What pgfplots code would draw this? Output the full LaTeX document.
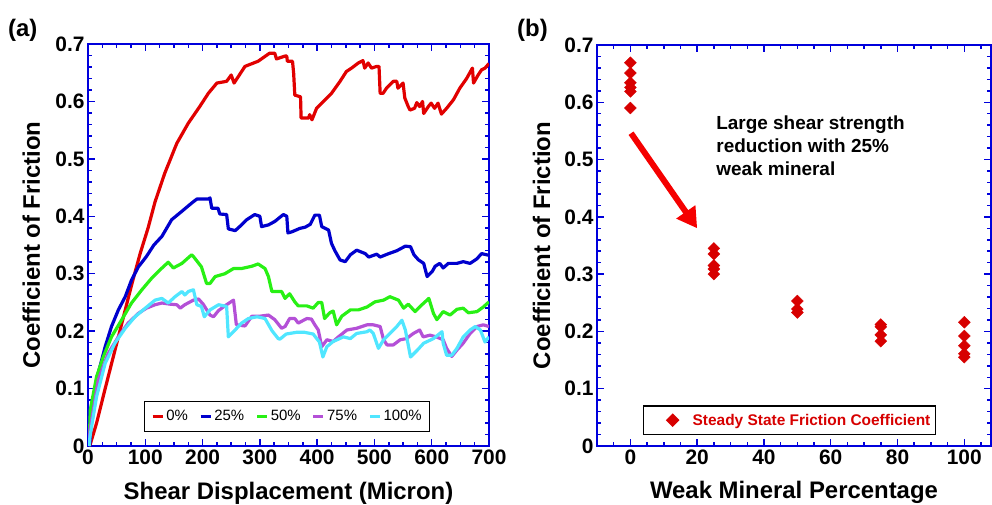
\documentclass[border=0pt]{standalone}
\usepackage{fontspec}
\setmainfont{Liberation Sans}
\usepackage{pgfplots}
\pgfplotsset{compat=1.18}
\usetikzlibrary{arrows.meta}

\definecolor{axblue}{RGB}{0,0,220}
\definecolor{cRed}{RGB}{225,0,0}
\definecolor{cBlue}{RGB}{0,0,205}
\definecolor{cGreen}{RGB}{40,240,20}
\definecolor{cPurple}{RGB}{180,80,215}
\definecolor{cCyan}{RGB}{80,230,255}
\definecolor{dRed}{RGB}{215,0,0}
\definecolor{arrRed}{RGB}{245,0,0}

\pgfplotsset{
  panel/.style={
    scale only axis,
    axis line style={axblue, line width=2.2bp},
    tick style={axblue, line width=1.5bp},
    tick align=inside,
    major tick length=7bp,
    minor tick length=4bp,
    ticklabel style={font=\fontsize{21}{21}\selectfont\bfseries},
    /pgf/number format/assume math mode=true,
    label style={font=\fontsize{24}{24}\selectfont\bfseries},
    ymin=0, ymax=0.7,
    ytick={0,0.1,...,0.7},
    minor ytick={0,0.02,...,0.7},
  },
}

\begin{document}
\begin{tikzpicture}
\useasboundingbox (0,0) rectangle (992bp,505bp);

% (a) friction vs displacement
\begin{axis}[panel,
  at={(88bp,59bp)}, anchor=south west,
  width=401bp, height=402bp,
  xmin=0, xmax=700,
  xtick={0,100,...,700},
  minor xtick={0,25,...,700},
  xlabel={Shear Displacement (Micron)},
  ylabel={Coefficient of Friction},
  xlabel style={at={(axis description cs:0.5,-0.134)}, anchor=base},
  ylabel style={at={(axis description cs:-0.12,0.5)}, anchor=base},
  legend style={at={(axis description cs:0.497,0.035)}, anchor=south,
    legend columns=5, draw=black, line width=1.2bp,
    font=\fontsize{15}{15}\selectfont,
    /tikz/every even column/.append style={column sep=9bp},
    inner xsep=6bp, inner ysep=7bp},
  legend image code/.code={\draw[#1, line width=3.5bp] (0bp,0bp) -- (10bp,0bp);},
  every axis plot/.append style={line width=3.2bp, line join=round},
]
\addplot[cRed] coordinates {
(3,0) (15,0.04) (30,0.1) (53,0.19) (76,0.28) (91,0.335) (105,0.38) (117,0.425)
(134,0.475) (155,0.527) (175,0.562) (195,0.591) (210,0.614) (225,0.632) (242,0.635)
(250,0.646) (255,0.632) (274,0.661) (297,0.670) (317,0.684) (326,0.684) (329,0.674)
(344,0.679) (347,0.679) (348,0.670) (357,0.670) (359,0.649) (361,0.611) (371,0.608)
(372,0.571) (385,0.571) (387,0.577) (391,0.568) (399,0.588) (411,0.600) (425,0.614)
(440,0.635) (451,0.652) (460,0.658) (472,0.667) (480,0.671) (483,0.658) (489,0.667)
(495,0.658) (504,0.661) (508,0.661) (510,0.614) (515,0.614) (521,0.623) (533,0.635)
(539,0.635) (541,0.623) (550,0.632) (553,0.606) (559,0.591) (562,0.585) (570,0.588)
(574,0.598) (579,0.591) (584,0.600) (586,0.579) (594,0.591) (599,0.597) (605,0.588)
(611,0.597) (617,0.578) (626,0.588) (638,0.603) (649,0.623) (661,0.640) (671,0.658)
(673,0.632) (681,0.646) (687,0.655) (693,0.658) (700,0.666)
};
\addlegendentry{0\%}
\addplot[cBlue] coordinates {
(3,0) (6,0.05) (18,0.127) (30,0.173) (41,0.208) (53,0.237) (65,0.260) (76,0.289)
(88,0.312) (102,0.330) (115,0.350) (129,0.365) (146,0.394) (163,0.408) (181,0.423)
(190,0.430) (210,0.430) (213,0.432) (216,0.414) (227,0.414) (230,0.404) (242,0.403)
(245,0.378) (257,0.375) (268,0.385) (277,0.394) (291,0.403) (300,0.400) (303,0.382)
(315,0.385) (326,0.391) (341,0.403) (347,0.400) (349,0.371) (356,0.373) (370,0.379)
(379,0.381) (388,0.386) (396,0.402) (404,0.402) (408,0.382) (420,0.376) (425,0.353)
(431,0.340) (440,0.324) (449,0.321) (458,0.333) (469,0.341) (484,0.335) (490,0.329)
(504,0.334) (510,0.329) (525,0.335) (539,0.340) (554,0.348) (563,0.347) (569,0.333)
(577,0.324) (586,0.318) (592,0.295) (601,0.304) (606,0.313) (614,0.318) (620,0.310)
(629,0.318) (644,0.318) (655,0.321) (667,0.318) (679,0.326) (687,0.335) (700,0.332)
};
\addlegendentry{25\%}
\addplot[cGreen] coordinates {
(2,0) (4,0.063) (15,0.121) (27,0.156) (41,0.190) (59,0.220) (76,0.249) (94,0.272)
(111,0.292) (126,0.307) (140,0.320) (149,0.310) (164,0.318) (181,0.333) (184,0.330)
(198,0.312) (207,0.283) (213,0.283) (222,0.295) (239,0.300) (254,0.309) (268,0.309)
(286,0.313) (297,0.317) (309,0.309) (315,0.295) (321,0.269) (338,0.269) (344,0.257)
(352,0.265) (361,0.251) (367,0.244) (382,0.244) (393,0.240) (402,0.250) (408,0.250)
(413,0.222) (422,0.232) (428,0.235) (434,0.211) (443,0.226) (458,0.237) (472,0.237)
(487,0.242) (501,0.251) (516,0.254) (527,0.260) (542,0.254) (551,0.240) (559,0.247)
(571,0.234) (583,0.246) (595,0.257) (603,0.231) (609,0.220) (620,0.234) (632,0.228)
(644,0.238) (655,0.240) (664,0.232) (679,0.234) (690,0.242) (700,0.251)
};
\addlegendentry{50\%}
\addplot[cPurple] coordinates {
(2,0) (3.5,0.028) (18,0.115) (35,0.161) (53,0.190) (70,0.214) (88,0.231) (102,0.240)
(117,0.246) (129,0.249) (143,0.247) (155,0.246) (161,0.240) (169,0.246) (184,0.254)
(193,0.256) (201,0.247) (213,0.228) (219,0.225) (228,0.236) (239,0.244) (254,0.254)
(259,0.211) (274,0.209) (286,0.226) (300,0.226) (315,0.228) (326,0.220) (338,0.205)
(344,0.208) (352,0.222) (361,0.222) (367,0.214) (382,0.222) (390,0.221) (396,0.211)
(402,0.202) (408,0.173) (417,0.185) (428,0.182) (437,0.190) (452,0.202) (469,0.205)
(487,0.211) (498,0.211) (510,0.208) (516,0.185) (522,0.176) (533,0.176) (545,0.185)
(556,0.187) (568,0.196) (579,0.202) (585,0.190) (597,0.193) (608,0.190) (620,0.185)
(626,0.170) (635,0.156) (644,0.167) (655,0.179) (667,0.196) (679,0.208) (690,0.211)
(700,0.208)
};
\addlegendentry{75\%}
\addplot[cCyan] coordinates {
(2,0) (3.5,0.017) (15,0.086) (30,0.144) (47,0.179) (65,0.205) (82,0.225) (100,0.240)
(117,0.254) (129,0.257) (140,0.249) (152,0.260) (164,0.269) (169,0.263) (175,0.269)
(184,0.272) (190,0.246) (198,0.243) (203,0.225) (213,0.237) (228,0.246) (242,0.243)
(245,0.190) (254,0.199) (268,0.214) (280,0.222) (295,0.225) (309,0.222) (321,0.201)
(332,0.187) (335,0.186) (346,0.195) (364,0.198) (378,0.198) (393,0.195) (404,0.181)
(410,0.155) (417,0.173) (428,0.182) (446,0.190) (458,0.187) (469,0.196) (487,0.199)
(492,0.202) (498,0.196) (507,0.170) (516,0.185) (527,0.196) (539,0.208) (548,0.219)
(554,0.202) (563,0.155) (575,0.167) (586,0.179) (603,0.187) (618,0.199) (620,0.179)
(626,0.158) (635,0.158) (644,0.170) (655,0.190) (667,0.202) (676,0.208) (685,0.202)
(693,0.181) (700,0.190)
};
\addlegendentry{100\%}
\end{axis}

% (b) steady state friction
\begin{axis}[panel,
  at={(597bp,59bp)}, anchor=south west,
  width=394bp, height=401bp,
  xmin=-10, xmax=108,
  xtick={0,20,...,100},
  minor xtick={-5,0,...,105},
  xlabel={Weak Mineral Percentage},
  ylabel={Coefficient of Friction},
  xlabel style={at={(axis description cs:0.5,-0.132)}, anchor=base},
  ylabel style={at={(axis description cs:-0.119,0.5)}, anchor=base},
  legend style={at={(axis description cs:0.117,0.027)}, anchor=south west,
    draw=black, line width=1.2bp, text=dRed,
    font=\fontsize{15.5}{15.5}\selectfont\bfseries,
    inner xsep=3bp, inner ysep=6bp},
]
\addplot[only marks, color=dRed, mark=square*, mark size=4.2bp,
  mark options={rotate=45, fill=dRed, draw=dRed},
  legend image code/.code={\path[draw=none] (0bp,0bp) -- (44bp,0bp);
    \draw[dRed, only marks, mark=square*, mark size=4.2bp,
      mark options={rotate=45, fill=dRed, draw=dRed}] plot coordinates {(26bp,0bp)};}] coordinates {
(0,0.669) (0,0.651) (0,0.634) (0,0.626) (0,0.619) (0,0.590)
(25,0.345) (25,0.335) (25,0.315) (25,0.309) (25,0.300)
(50,0.253) (50,0.239) (50,0.233)
(75,0.212) (75,0.208) (75,0.194) (75,0.183)
(100,0.216) (100,0.192) (100,0.175) (100,0.161) (100,0.155)
};
\addlegendentry{Steady State Friction Coefficient}
\draw[-{Triangle[length=20bp,width=22bp]}, line width=6bp, arrRed]
  (axis cs:0.2,0.546) -- (axis cs:20,0.38);
\node[anchor=north west, align=left, inner sep=0,
  font=\fontsize{19}{23}\selectfont\bfseries]
  at (axis cs:25.7,0.576) {Large shear strength\\reduction with 25\%\\weak mineral};
\end{axis}

\node[anchor=base west, inner sep=0, font=\fontsize{24}{24}\selectfont\bfseries] at (8bp,468bp) {(a)};
\node[anchor=base west, inner sep=0, font=\fontsize{24}{24}\selectfont\bfseries] at (517bp,468bp) {(b)};
\end{tikzpicture}
\end{document}
